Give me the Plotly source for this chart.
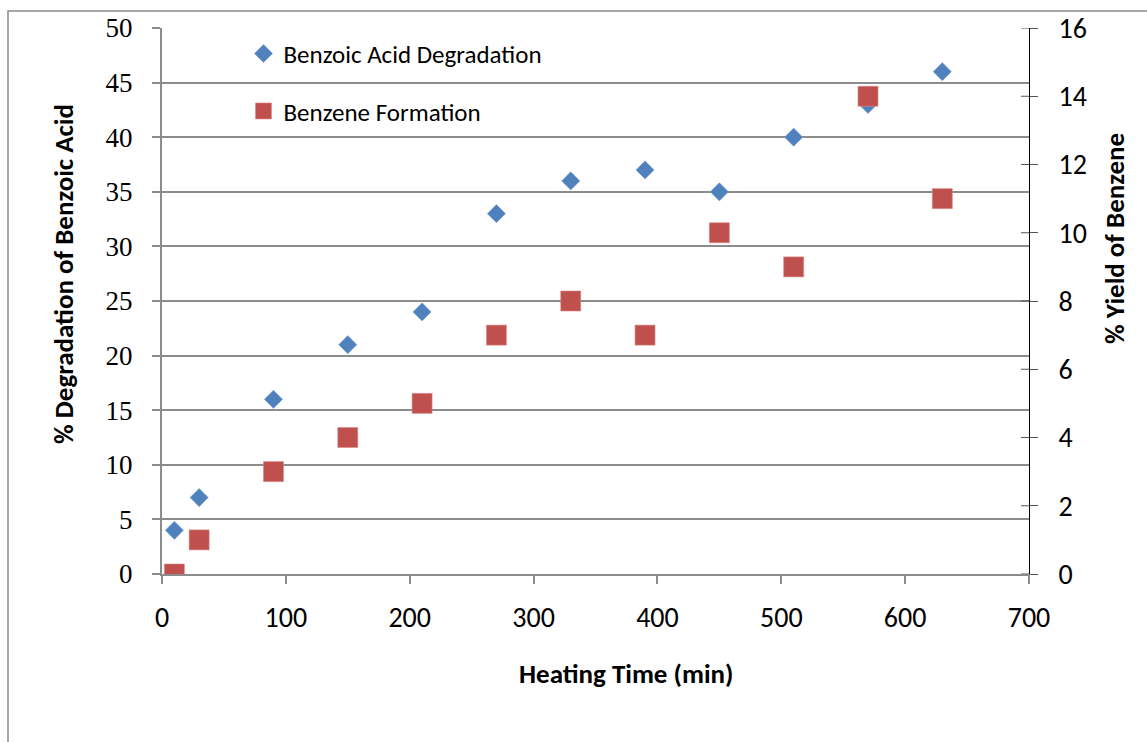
import plotly.graph_objects as go

# Heating time (min) and measured results
heating_time = [10, 30, 90, 150, 210, 270, 330, 390, 450, 510, 570, 630]
degradation_pct = [4, 7, 16, 21, 24, 33, 36, 37, 35, 40, 43, 46]
benzene_yield_pct = [0, 1, 3, 4, 5, 7, 8, 7, 10, 9, 14, 11]

x_ticks = [0, 100, 200, 300, 400, 500, 600, 700]
left_ticks = [0, 5, 10, 15, 20, 25, 30, 35, 40, 45, 50]
right_ticks = [0, 2, 4, 6, 8, 10, 12, 14, 16]

BLUE = "#4F81BD"
RED = "#C0504D"
GRID = "#8C8C8C"
SANS = "Carlito, Lato, 'Open Sans', sans-serif"
SERIF = "'Liberation Serif', 'Times New Roman', serif"

PW = 867  # plot width in px
PH = 546  # plot height in px

fig = go.Figure()
fig.add_trace(go.Scatter(
    x=heating_time, y=degradation_pct, mode="markers",
    name="Benzoic Acid Degradation", legendgroup="a",
    marker=dict(symbol="diamond", size=14, color=BLUE,
                line=dict(color="#7FA3D0", width=0.6)),
    yaxis="y",
))
fig.add_trace(go.Scatter(
    x=heating_time, y=benzene_yield_pct, mode="markers",
    name="Benzene Formation", legendgroup="b",
    marker=dict(symbol="square", size=20, color=RED,
                line=dict(color="#D88886", width=0.6)),
    yaxis="y2",
))

fig.update_layout(
    width=1147, height=742,
    margin=dict(l=162, r=118, t=28, b=168),
    paper_bgcolor="white", plot_bgcolor="white",
    showlegend=True,
    legend=dict(x=0.094, y=0.995, xanchor="left", yanchor="top",
                font=dict(family=SANS, size=25, color="black"),
                bgcolor="rgba(0,0,0,0)", tracegroupgap=22,
                itemwidth=30),
    xaxis=dict(range=[0, 700], tickvals=x_ticks, showgrid=False,
               showline=True, linecolor=GRID, linewidth=2,
               ticks="outside", ticklen=8, tickcolor=GRID, tickwidth=2,
               tickfont=dict(family=SANS, size=28, color="black"),
               ticklabelstandoff=9, zeroline=False),
    yaxis=dict(range=[0, 50], tickvals=left_ticks, showgrid=True,
               gridcolor=GRID, gridwidth=2,
               showline=True, linecolor=GRID, linewidth=2,
               ticks="outside", ticklen=8, tickcolor=GRID, tickwidth=2,
               tickfont=dict(family=SERIF, size=27, color="black"),
               ticklabelstandoff=14, zeroline=False),
    yaxis2=dict(range=[0, 16], tickvals=right_ticks, overlaying="y",
                side="right", showgrid=False,
                showline=True, linecolor="black", linewidth=1,
                ticks="outside", ticklen=8, tickcolor="#555555", tickwidth=1,
                tickfont=dict(family=SANS, size=28, color="black"),
                ticklabelstandoff=15, zeroline=False),
)

# inner half of the crossing tick marks on the right axis
for v in right_ticks:
    fig.add_shape(type="line", xref="paper", yref="y2",
                  x0=1.0 - 8 / PW, x1=1.0, y0=v, y1=v,
                  line=dict(color="#555555", width=1))

# axis titles
title_font = dict(family=SANS, size=27, color="black")
fig.add_annotation(text="<b>Heating Time (min)</b>", xref="paper", yref="paper",
                   x=(626 - 162) / PW, y=(574 - 673) / PH,
                   xanchor="center", yanchor="middle",
                   showarrow=False, font=title_font)
fig.add_annotation(text="<b>% Degradation of Benzoic Acid</b>", xref="paper",
                   yref="paper", x=(63 - 162) / PW, y=(574 - 274) / PH,
                   xanchor="center", yanchor="middle",
                   textangle=-90, showarrow=False, font=title_font)
fig.add_annotation(text="<b>% Yield of Benzene</b>", xref="paper", yref="paper",
                   x=(1115 - 162) / PW, y=(574 - 239) / PH,
                   xanchor="center", yanchor="middle",
                   textangle=-90, showarrow=False, font=title_font)

# chart frame
fig.add_shape(type="rect", xref="paper", yref="paper",
              x0=(8 - 162) / PW, x1=(1160 - 162) / PW,
              y0=(574 - 760) / PH, y1=(574 - 11) / PH,
              line=dict(color="#8C8C8C", width=1.5), layer="below")

fig.write_html("out.html")
